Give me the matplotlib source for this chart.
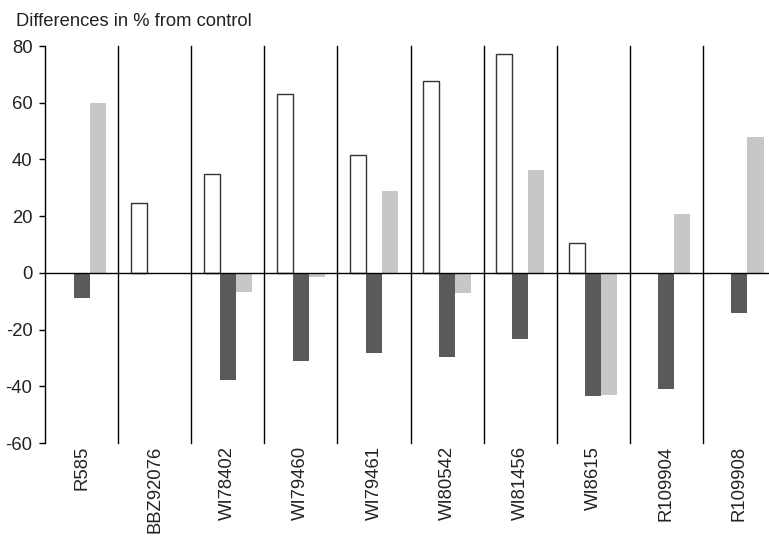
import matplotlib
matplotlib.use("Agg")
import matplotlib.pyplot as plt
import numpy as np

plt.rcParams['font.family'] = ['Liberation Sans', 'DejaVu Sans']

categories = ["R585", "BBZ92076", "WI78402", "WI79460", "WI79461",
              "WI80542", "WI81456", "WI8615", "R109904", "R109908"]
series_white = [0, 24.8, 34.8, 63, 41.7, 67.7, 77.3, 10.6, 0, 0]
series_dark = [-8.9, 0, -37.7, -31, -28.1, -29.8, -23.4, -43.3, -41, -14.2]
series_light = [59.9, 0, -6.6, -1.6, 28.7, -7.2, 36.4, -43.1, 20.9, 47.8]
yticks = [-60, -40, -20, 0, 20, 40, 60, 80]
ylabel = "Differences in % from control"

W, H = 769, 536
fig = plt.figure(figsize=(W / 100, H / 100), dpi=100)
ax = fig.add_axes([45 / W, 93 / H, (776 - 45) / W, 397 / H])

x = np.arange(len(categories))
w = 0.22
for xi, v in zip(x, series_white):
    if v != 0:
        ax.bar(xi - w, v, w, color='white', edgecolor='#333333', linewidth=1.0, zorder=2)
ax.bar(x, series_dark, w, color='#5a5a5a', edgecolor='none', zorder=2)
ax.bar(x + w, series_light, w, color='#c6c7c6', edgecolor='none', zorder=2)

ax.set_xlim(-0.5, len(categories) - 0.5)
ax.set_ylim(-60, 80)
for b in np.arange(0.5, len(categories) - 0.5, 1):
    ax.plot([b, b], [-60, 80], color='black', lw=1.0, zorder=3, clip_on=False)
ax.axhline(0, color='black', lw=1.0, zorder=3)

for s in ['top', 'right', 'bottom']:
    ax.spines[s].set_visible(False)
ax.spines['left'].set_linewidth(1.0)
ax.set_yticks(yticks)
ax.set_yticklabels([str(t) for t in yticks], fontsize=13.3, color='#222222')
ax.tick_params(axis='y', length=4, width=1.0, pad=5)
ax.set_xticks(x)
ax.set_xticklabels(categories, rotation=90, fontsize=13.3, va='top', ha='center', color='#222222')
ax.tick_params(axis='x', length=0, pad=2)

fig.text(16 / W, 1 - 26 / H, ylabel, fontsize=13.2, ha='left', va='baseline', color='#222222')

fig.savefig("out.png", dpi=100)
